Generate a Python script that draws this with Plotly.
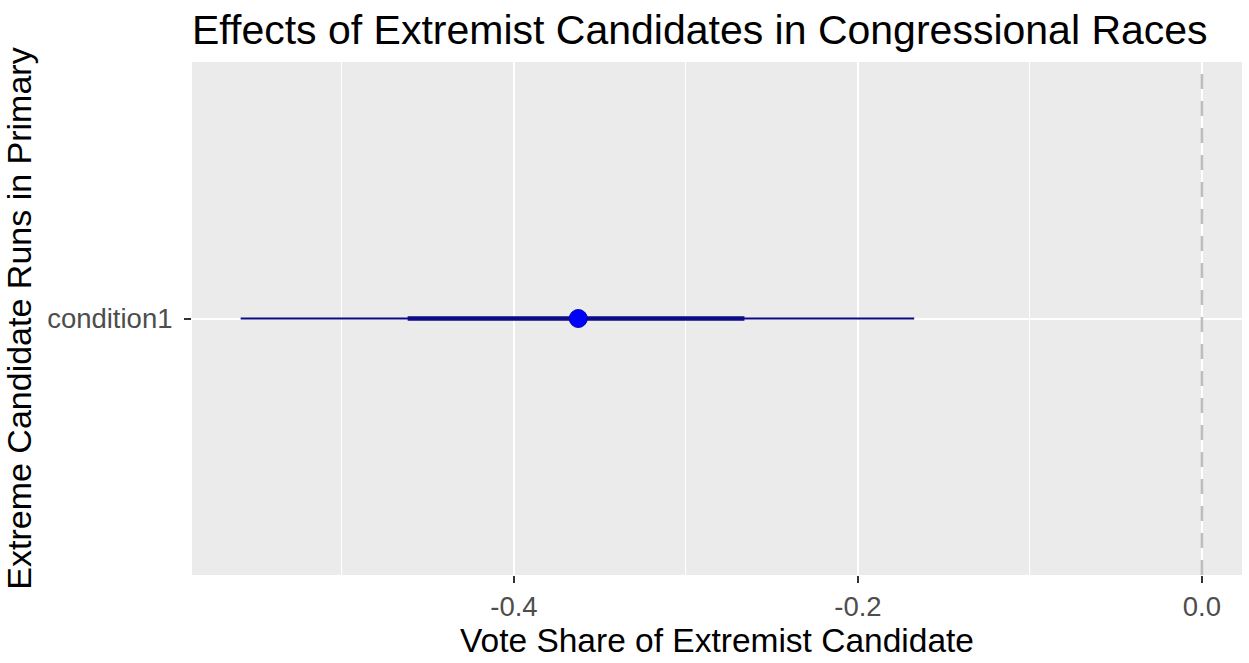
import plotly.graph_objects as go

# Data
terms = ["condition1"]
estimate = [-0.3626]
lo95 = [-0.5589]
hi95 = [-0.1673]
lo90 = [-0.4618]
hi90 = [-0.2660]
x_ticks = [-0.4, -0.2, 0.0]
x_tick_labels = ["-0.4", "-0.2", "0.0"]
x_minor = [-0.5, -0.3, -0.1]

W, H = 1249, 663
FONT = "Liberation Sans, Arial, sans-serif"
line_col = "#0B0B86"

fig = go.Figure()
ypos = list(range(1, len(terms) + 1))

for i, t in enumerate(terms):
    fig.add_trace(go.Scatter(x=[lo95[i], hi95[i]], y=[ypos[i], ypos[i]], mode="lines",
                             line=dict(color=line_col, width=2), showlegend=False, hoverinfo="skip"))
    fig.add_trace(go.Scatter(x=[lo90[i], hi90[i]], y=[ypos[i], ypos[i]], mode="lines",
                             line=dict(color=line_col, width=4.5), showlegend=False, hoverinfo="skip"))
fig.add_trace(go.Scatter(x=estimate, y=ypos, mode="markers",
                         marker=dict(color="#0000FF", size=18, line=dict(color="#0000B0", width=1)),
                         showlegend=False))

# dashed reference line at 0
fig.add_shape(type="line", xref="x", yref="paper", x0=0, x1=0, y0=0, y1=1,
              line=dict(color="#BDBDBD", width=2.5, dash="15px,12px"), layer="above")

fig.update_layout(
    width=W, height=H,
    margin=dict(l=192, r=7, t=62, b=88),
    paper_bgcolor="white",
    plot_bgcolor="#EBEBEB",
    font=dict(family=FONT, color="black"),
    title=dict(text="Effects of Extremist Candidates in Congressional Races",
               font=dict(size=41, color="black", family=FONT),
               x=0.0, xref="paper", xanchor="left",
               y=1 - 30 / H, yref="container", yanchor="middle"),
    xaxis=dict(range=[-0.5872, 0.0233], tickvals=x_ticks, ticktext=x_tick_labels,
               showgrid=True, gridcolor="white", gridwidth=2,
               minor=dict(tickvals=x_minor, showgrid=True, gridcolor="white", gridwidth=1, ticks=""),
               zeroline=False, showline=False,
               ticks="outside", ticklen=7, tickwidth=2, tickcolor="#333333",
               tickfont=dict(size=27.5, color="#4D4D4D", family=FONT),
               title=dict(text="Vote Share of Extremist Candidate",
                          font=dict(size=33.5, color="black", family=FONT), standoff=2)),
    yaxis=dict(range=[0.4, 1.6], tickvals=ypos, ticktext=terms,
               showgrid=True, gridcolor="white", gridwidth=2,
               zeroline=False, showline=False,
               ticks="outside", ticklen=7, tickwidth=2, tickcolor="#333333",
               ticklabelstandoff=6,
               tickfont=dict(size=27.5, color="#4D4D4D", family=FONT),
               title=dict(text="Extreme Candidate Runs in Primary",
                          font=dict(size=34, color="black", family=FONT), standoff=8)),
)

fig.write_html("out.html")
